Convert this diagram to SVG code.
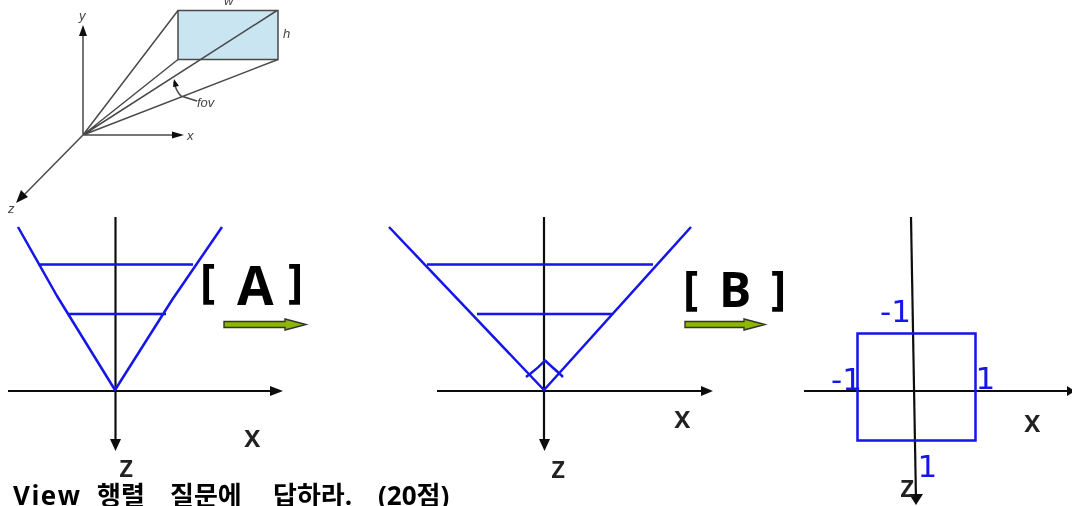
<svg xmlns="http://www.w3.org/2000/svg" width="1072" height="506" viewBox="0 0 1072 506">
<defs><filter id="soft" x="-5%" y="-5%" width="110%" height="110%"><feGaussianBlur stdDeviation="0.35"/></filter><filter id="soft2" x="-5%" y="-5%" width="110%" height="110%"><feGaussianBlur stdDeviation="0.6"/></filter></defs>
<style>
.ax{stroke:#111;stroke-width:2.2;fill:none}
.bl{stroke:#1414e8;stroke-width:2.5;fill:none}
.ah{fill:#111}
.top{stroke:#4a4a4a;stroke-width:1.5;fill:none}
.tl{font-family:"Liberation Sans",Arial,sans-serif;font-style:italic;fill:#444;font-size:13px}
.ml{font-family:"Open Sans","Noto Sans",sans-serif;fill:#222;font-size:30px;font-weight:600}
.num{font-family:"DejaVu Sans",sans-serif;fill:#1414e8;font-size:31px}
.big{font-family:"Open Sans","Noto Sans",sans-serif;font-weight:700;fill:#000}
.g{fill:#8db600;stroke:#333;stroke-width:1.4}
</style>
<rect width="1072" height="506" fill="#fff"/>
<g id="frustum-3d" filter="url(#soft2)">
<rect x="178" y="10.500" width="100" height="49" fill="#c9e5f1" stroke="#4a4a4a" stroke-width="1.500"/>
<path class="top" d="M83 135L178 10.500M83 135L277 10.500M83 135L178 59.500M83 135L278 59.500M83 135V30M83 135H175M83 135L22 197M174 82Q176 91 181 96L197 101"/>
<path fill="#111" d="M83 25L87 36H79ZM184 135L172 131.500V138.500ZM16 203L21 190L28 197ZM174 79L179 86L173 87Z"/>
<text class="tl" x="79" y="20">y</text><text class="tl" x="187" y="140">x</text><text class="tl" x="8" y="213">z</text><text class="tl" x="224" y="5">w</text><text class="tl" x="283" y="38">h</text><text class="tl" x="197" y="107">fov</text>
</g>
<g id="connectors" filter="url(#soft)">
<g id="arrow-a"><path class="g" d="M224 321.500H285V319L306 324.500L285 330V327.500H224Z"/></g>
<g id="arrow-b"><path class="g" d="M685 321.500H744V319L765 324.500L744 330V327.500H685Z"/></g>
</g>
<g id="diagram-left" filter="url(#soft)">
<path class="ax" d="M8 391H275M115.500 217V445"/>
<path class="ah" d="M283 391L270 386V396ZM115.500 451L110 439H121Z"/>
<path class="bl" stroke-linejoin="round" d="M18 227L57 296L115 390L172 300L222 227M38 264.500H193M67 314H166"/>
<text class="ml" x="244" y="447">x</text><text class="ml" x="119" y="477">z</text>
</g>
<g id="diagram-middle" filter="url(#soft)">
<path class="ax" d="M437 391H705M544 217V445"/>
<path class="ah" d="M713 391L701 386V396ZM544.500 451L539 439H550Z"/>
<path class="bl" stroke-linejoin="round" d="M389 227L544 390L691 227M427 264.500H653M477 314H612M526 377L530 374Q538 368 545 360.500Q552 367 560 374L563 377"/>
<text class="ml" x="674" y="428">x</text><text class="ml" x="551" y="478">z</text>
</g>
<g id="diagram-right" filter="url(#soft)">
<path class="ax" d="M804 391H1068"/>
<path class="ax" d="M911 217L916 500" stroke-width="1.800"/>
<path class="ah" d="M1075 391L1067 386V396ZM916 505L909 494H923Z"/>
<rect class="bl" x="857.500" y="333.500" width="118" height="107"/>
<text class="ml" x="1024" y="432">x</text><text class="ml" x="900" y="497">z</text>
<text class="num" x="880" y="322">-1</text><text class="num" x="831" y="390">-1</text><text class="num" x="975.500" y="389">1</text><text class="num" x="917.500" y="477">1</text>
</g>
<g id="labels" filter="url(#soft)">
<text class="big" x="200" y="297" font-size="46">[</text>
<text class="big" x="237" y="305" font-size="53">A</text>
<text class="big" x="288" y="297" font-size="46">]</text>
<text class="big" x="683" y="304" font-size="46">[</text>
<text class="big" x="719" y="307" font-size="48">B</text>
<text class="big" x="771" y="304" font-size="46">]</text>
<text y="505" font-size="26" font-weight="700" fill="#000" font-family="'Open Sans','Noto Sans CJK KR',sans-serif"><tspan x="13" textLength="67">View</tspan> <tspan x="97">행렬</tspan> <tspan x="170">질문에</tspan> <tspan x="273">답하라.</tspan> <tspan x="378">(20점)</tspan></text>
</g>
</svg>
